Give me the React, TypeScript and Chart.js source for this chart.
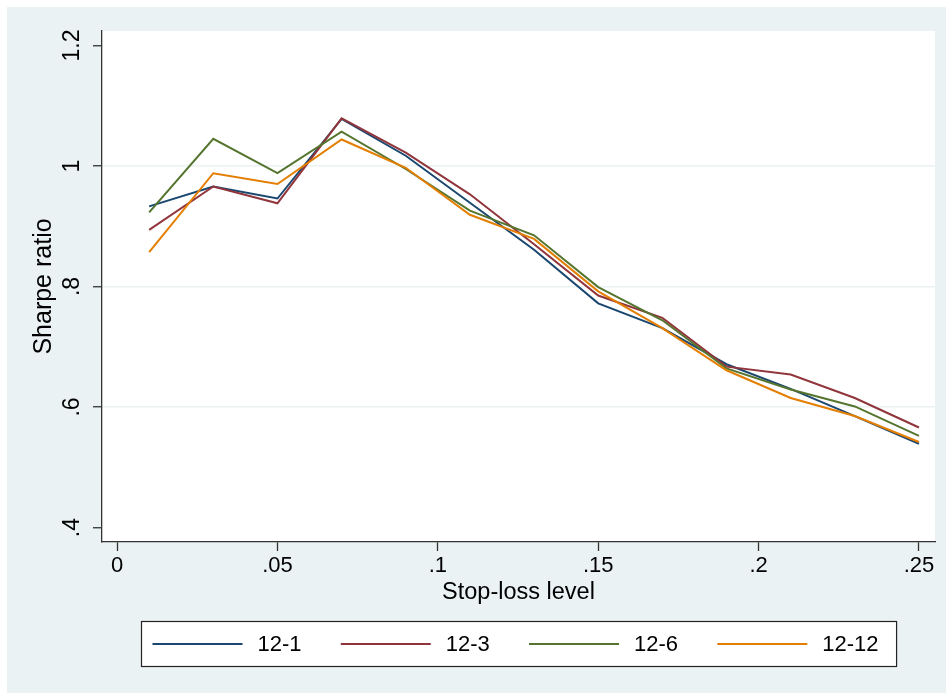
import React, { useEffect, useRef } from "react";
import { Chart, registerables } from "chart.js";

Chart.register(...registerables);

// ---- data ----
const stopLoss = [0.01, 0.03, 0.05, 0.07, 0.09, 0.11, 0.13, 0.15, 0.17, 0.19, 0.21, 0.23, 0.25];
const sr12_1 = [0.933, 0.966, 0.946, 1.078, 1.017, 0.939, 0.861, 0.772, 0.731, 0.671, 0.630, 0.585, 0.539];
const sr12_3 = [0.894, 0.966, 0.938, 1.079, 1.022, 0.953, 0.870, 0.785, 0.748, 0.667, 0.654, 0.615, 0.566];
const sr12_6 = [0.923, 1.045, 0.988, 1.057, 0.995, 0.926, 0.885, 0.799, 0.744, 0.664, 0.629, 0.601, 0.552];
const sr12_12 = [0.857, 0.988, 0.970, 1.044, 0.997, 0.919, 0.879, 0.792, 0.731, 0.661, 0.615, 0.585, 0.542];
const seriesLabels = ["12-1", "12-3", "12-6", "12-12"];
const seriesColors = ["rgb(26,71,111)", "rgb(144,53,59)", "rgb(85,117,47)", "rgb(227,126,0)"];
const xTickValues = [0, 0.05, 0.1, 0.15, 0.2, 0.25];
const xTickLabels = ["0", ".05", ".1", ".15", ".2", ".25"];
const yTickValues = [0.4, 0.6, 0.8, 1.0, 1.2];
const yTickLabels = [".4", ".6", ".8", "1", "1.2"];
const yNoGrid = [0.4, 1.2];
const xTitle = "Stop-loss level";
const yTitle = "Sharpe ratio";

const FONT = "'Liberation Sans', Arial, Helvetica, sans-serif";
const BG = "rgb(234,242,243)";
const AXIS = "#333333";

const near = (a: number, b: number) => Math.abs(a - b) < 1e-9;
const lookup = (vals: number[], labels: string[]) => (v: any) => {
  const i = vals.findIndex((t) => near(t, Number(v)));
  return i >= 0 ? labels[i] : "";
};

const bgPlugin = {
  id: "stataBg",
  beforeDraw(chart: any) {
    const { ctx, chartArea } = chart;
    ctx.save();
    ctx.fillStyle = BG;
    ctx.fillRect(0, 0, chart.width, chart.height);
    ctx.fillStyle = "#ffffff";
    ctx.fillRect(chartArea.left, chartArea.top, chartArea.right - chartArea.left, chartArea.bottom - chartArea.top);
    ctx.restore();
  },
};

const legendPlugin = {
  id: "stataLegend",
  afterDraw(chart: any) {
    const { ctx, chartArea } = chart;
    const xs = chart.scales.x;
    const ds = chart.data.datasets;
    ctx.save();
    ctx.font = `22px ${FONT}`;
    const maxW = Math.max(...ds.map((d: any) => ctx.measureText(d.label).width));
    const lineLen = 90, textGap = 15, colGap = 27, padL = 11, padR = 18, h = 45;
    const colW = lineLen + textGap + maxW + colGap;
    const w = padL + ds.length * colW - colGap + padR;
    const left = Math.round((chartArea.left + chartArea.right) / 2 - w / 2) + 0.5;
    const top = Math.round(xs.bottom) + 0.5;
    ctx.fillStyle = "#ffffff";
    ctx.fillRect(left, top, w, h);
    ctx.strokeStyle = "#222222";
    ctx.lineWidth = 1.2;
    ctx.strokeRect(left, top, w, h);
    const cy = top + h / 2;
    ds.forEach((d: any, i: number) => {
      const x0 = left + padL + i * colW;
      ctx.strokeStyle = d.borderColor;
      ctx.lineWidth = 2;
      ctx.beginPath();
      ctx.moveTo(x0, cy);
      ctx.lineTo(x0 + lineLen, cy);
      ctx.stroke();
      ctx.fillStyle = "#000000";
      ctx.textBaseline = "middle";
      ctx.textAlign = "left";
      ctx.fillText(d.label, x0 + lineLen + textGap, cy + 1);
    });
    ctx.restore();
  },
};

export default function App() {
  const ref = useRef<HTMLCanvasElement>(null);
  useEffect(() => {
    if (!ref.current) return;
    const series = [sr12_1, sr12_3, sr12_6, sr12_12];
    const chart = new Chart(ref.current, {
      type: "line",
      data: {
        datasets: series.map((s, i) => ({
          label: seriesLabels[i],
          data: stopLoss.map((x, j) => ({ x, y: s[j] })),
          borderColor: seriesColors[i],
          backgroundColor: seriesColors[i],
          borderWidth: 2,
          pointRadius: 0,
          tension: 0,
          fill: false,
          order: series.length - 1 - i,
        })),
      },
      options: {
        animation: false,
        responsive: false,
        events: [],
        layout: { padding: { left: 0, right: 11, top: 24, bottom: 72 } },
        plugins: { legend: { display: false }, tooltip: { enabled: false } },
        scales: {
          x: {
            type: "linear",
            min: -0.0047,
            max: 0.255,
            afterBuildTicks: (s: any) => {
              s.ticks = xTickValues.map((v) => ({ value: v }));
            },
            afterFit: (s: any) => {
              s.height = 79;
            },
            ticks: {
              callback: lookup(xTickValues, xTickLabels),
              font: { family: FONT, size: 22 },
              color: "#000000",
              padding: 2,
              maxRotation: 0,
              minRotation: 0,
              autoSkip: false,
            },
            grid: {
              drawOnChartArea: false,
              drawTicks: true,
              tickLength: 9,
              tickColor: AXIS,
              tickWidth: 1.3,
            },
            border: { color: AXIS, width: 1.3 },
            title: {
              display: true,
              text: xTitle,
              color: "#000000",
              font: { family: FONT, size: 23.5 },
              padding: { top: 0, bottom: 14.4 },
            },
          },
          y: {
            type: "linear",
            min: 0.376,
            max: 1.224,
            afterBuildTicks: (s: any) => {
              s.ticks = yTickValues.map((v) => ({ value: v }));
            },
            afterFit: (s: any) => {
              s.width = 95;
            },
            ticks: {
              callback: lookup(yTickValues, yTickLabels),
              font: { family: FONT, size: 23 },
              color: "#000000",
              padding: 4.5,
              minRotation: 90,
              maxRotation: 90,
              crossAlign: "center",
              autoSkip: false,
            },
            grid: {
              drawOnChartArea: true,
              drawTicks: true,
              tickLength: 9,
              tickColor: AXIS,
              tickWidth: 1.3,
              lineWidth: 1.5,
              color: (c: any) => {
                const v = c.tick ? c.tick.value : NaN;
                return yNoGrid.some((t) => near(t, v)) ? "rgba(0,0,0,0)" : BG;
              },
            },
            border: { color: AXIS, width: 1.3 },
            title: {
              display: true,
              text: yTitle,
              color: "#000000",
              font: { family: FONT, size: 25 },
              padding: { top: 21.7, bottom: 0 },
            },
          },
        },
      },
      plugins: [bgPlugin, legendPlugin],
    } as any);
    return () => chart.destroy();
  }, []);
  return (
    <div style={{ position: "absolute", left: 7, top: 7, width: 939, height: 686 }}>
      <canvas ref={ref} width={939} height={686} />
    </div>
  );
}
